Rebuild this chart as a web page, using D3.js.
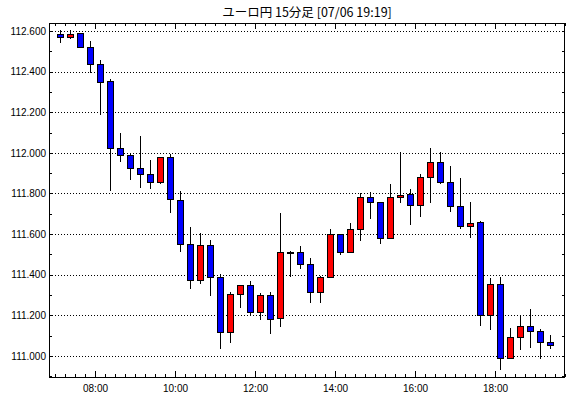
<!DOCTYPE html>
<html><head><meta charset="utf-8">
<script src="https://cdn.jsdelivr.net/npm/d3@7"></script>
<style>
body{margin:0;background:#fff;}
text{font-family:"Liberation Sans",Arial,sans-serif;}
</style></head><body>
<svg id="chart" width="570" height="398"></svg>
<script>
const titleText = "ユーロ円 15分足 [07/06 19:19]";
const times = ["07:00","07:15","07:30","07:45","08:00","08:15","08:30","08:45","09:00","09:15",
"09:30","09:45","10:00","10:15","10:30","10:45","11:00","11:15","11:30","11:45",
"12:00","12:15","12:30","12:45","13:00","13:15","13:30","13:45","14:00","14:15",
"14:30","14:45","15:00","15:15","15:30","15:45","16:00","16:15","16:30","16:45",
"17:00","17:15","17:30","17:45","18:00","18:15","18:30","18:45","19:00","19:15"];
const open  = [112.585,112.567,112.589,112.520,112.438,112.354,112.023,111.990,111.925,111.895,
111.856,111.979,111.770,111.551,111.375,111.547,111.389,111.118,111.305,111.351,
111.219,111.301,111.185,111.512,111.511,111.452,111.315,111.389,111.600,111.511,
111.625,111.782,111.757,111.580,111.782,111.797,111.741,111.880,111.954,111.856,
111.738,111.642,111.660,111.202,111.356,110.990,111.093,111.147,111.123,111.069];
const high  = [112.605,112.603,112.590,112.551,112.457,112.364,112.097,111.995,112.084,111.965,
111.980,111.995,111.813,111.636,111.606,111.572,111.403,111.315,111.351,111.370,
111.310,111.315,111.706,111.515,111.542,111.482,111.395,111.626,111.600,111.654,
111.802,111.807,111.757,111.847,112.003,111.821,111.897,112.023,112.003,111.933,
111.875,111.760,111.667,111.384,111.389,111.138,111.198,111.233,111.134,111.105];
const low   = [112.542,112.559,112.515,112.395,112.188,111.813,111.957,111.864,111.829,111.824,
111.847,111.706,111.514,111.329,111.354,111.298,111.034,111.062,111.236,111.195,
111.178,111.110,111.141,111.387,111.428,111.261,111.261,111.389,111.495,111.507,
111.568,111.674,111.551,111.580,111.752,111.647,111.682,111.752,111.846,111.711,
111.626,111.583,111.150,111.126,110.929,110.985,111.031,111.039,110.985,111.036];
const close = [112.569,112.584,112.518,112.436,112.351,112.023,111.989,111.925,111.895,111.856,
111.979,111.772,111.552,111.375,111.547,111.389,111.118,111.305,111.351,111.219,
111.301,111.185,111.511,111.514,111.452,111.315,111.389,111.600,111.511,111.625,
111.782,111.757,111.580,111.782,111.792,111.741,111.880,111.954,111.856,111.739,
111.642,111.657,111.202,111.356,110.990,111.093,111.147,111.121,111.069,111.052];
const yTickValues = [111.0,111.2,111.4,111.6,111.8,112.0,112.2,112.4,112.6];
const yMinorValues = [110.9,111.0,111.1,111.2,111.3,111.4,111.5,111.6,111.7,111.8,111.9,112.0,112.1,112.2,112.3,112.4,112.5,112.6];
const xLabelTimes = ["08:00","10:00","12:00","14:00","16:00","18:00"];

const parse = d3.timeParse("%Y-%m-%d %H:%M");
const day = "2023-07-06 ";
const data = times.map((t,i)=>({t:parse(day+t),o:open[i],h:high[i],l:low[i],c:close[i]}));

const L=49,R=565,T=23,B=377;
const svg = d3.select("#chart");
const x = d3.scaleTime().domain([parse(day+"06:51"),parse(day+"19:45")]).range([L,R]);
const y = d3.scaleLinear().domain([110.897,112.639]).range([B,T]);
const half = 7.5*60*1000;

// title
svg.append("text").attr("x",(L+R)/2).attr("y",17).attr("text-anchor","middle")
  .style("font-family","'Noto Sans CJK JP','DejaVu Sans',sans-serif").style("font-size","12.5px")
  .text(titleText);

// grid
svg.append("g").selectAll("line").data(yTickValues).join("line")
  .attr("x1",L).attr("x2",R)
  .attr("y1",d=>Math.round(y(d))+0.5).attr("y2",d=>Math.round(y(d))+0.5)
  .attr("stroke","#000").attr("stroke-width",1).attr("stroke-dasharray","1,2")
  .attr("shape-rendering","crispEdges");

// axes
const minorTimes = d3.timeMinute.every(15).range(parse(day+"06:51"),parse(day+"19:46"));
const majorTimes = xLabelTimes.map(t=>parse(day+t));
function styleAxis(g){g.select(".domain").remove();g.selectAll("line").attr("stroke","#000").attr("shape-rendering","crispEdges");}
svg.append("g").attr("transform",`translate(0,${B})`)
  .call(d3.axisBottom(x).tickValues(minorTimes).tickSize(-3).tickFormat("")).call(styleAxis);
svg.append("g").attr("transform",`translate(0,${B})`)
  .call(d3.axisBottom(x).tickValues(majorTimes).tickSize(-6).tickPadding(8).tickFormat(d3.timeFormat("%H:%M")))
  .call(styleAxis).call(g=>g.selectAll("text").style("font-size","10px").attr("fill","#000"));
svg.append("g").attr("transform",`translate(0,${T})`)
  .call(d3.axisTop(x).tickValues(minorTimes).tickSize(-3).tickFormat("")).call(styleAxis);
svg.append("g").attr("transform",`translate(0,${T})`)
  .call(d3.axisTop(x).tickValues(majorTimes).tickSize(-6).tickFormat("")).call(styleAxis);
svg.append("g").attr("transform",`translate(${L},0)`)
  .call(d3.axisLeft(y).tickValues(yMinorValues).tickSize(-3).tickFormat("")).call(styleAxis);
svg.append("g").attr("transform",`translate(${L},0)`)
  .call(d3.axisLeft(y).tickValues(yTickValues).tickSize(0).tickPadding(3).tickFormat(d3.format(".3f")))
  .call(styleAxis).call(g=>g.selectAll("text").style("font-size","10px").attr("fill","#000"));
svg.append("g").attr("transform",`translate(${R},0)`)
  .call(d3.axisRight(y).tickValues(yMinorValues).tickSize(-3).tickFormat("")).call(styleAxis);

// frame
svg.append("rect").attr("x",L+0.5).attr("y",T+0.5).attr("width",R-L-1).attr("height",B-T)
  .attr("fill","none").attr("stroke","#000").attr("shape-rendering","crispEdges");

// candles
const cg = svg.append("g").attr("shape-rendering","crispEdges");
const cx = d=>Math.round(x(new Date(+d.t+half)));
cg.selectAll("line.w").data(data).join("line").attr("class","w")
  .attr("x1",d=>cx(d)+0.5).attr("x2",d=>cx(d)+0.5)
  .attr("y1",d=>Math.round(y(d.h))).attr("y2",d=>Math.round(y(d.l)))
  .attr("stroke","#000").attr("stroke-width",1);
cg.selectAll("rect.b").data(data).join("rect").attr("class","b")
  .attr("x",d=>cx(d)-2.5).attr("width",6)
  .attr("y",d=>Math.round(y(Math.max(d.o,d.c)))+0.5)
  .attr("height",d=>Math.max(1,Math.round(Math.abs(y(d.o)-y(d.c)))))
  .attr("fill",d=>d.c>=d.o?"#ff0000":"#0000ff").attr("stroke","#000").attr("stroke-width",1);
</script></body></html>
